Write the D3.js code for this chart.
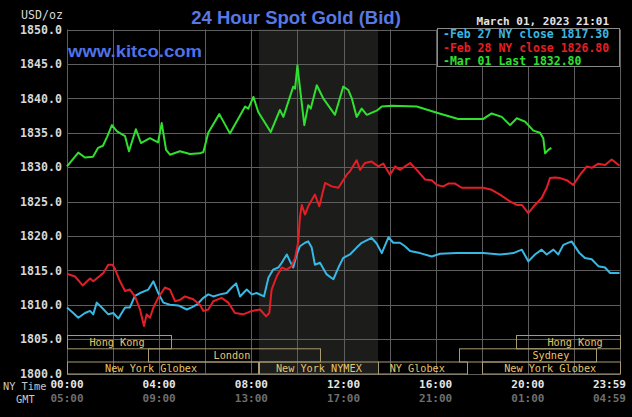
<!DOCTYPE html>
<html><head><meta charset="utf-8">
<script src="https://cdn.jsdelivr.net/npm/d3@7"></script>
<style>html,body{margin:0;padding:0;background:#000;overflow:hidden}</style>
</head><body><svg id="c" width="632" height="417"></svg>
<script>
// ---- data (hours NY time, price USD/oz) ----
const feb27Hours = [0.0,0.27,0.49,0.78,1.00,1.14,1.29,1.51,1.79,2.01,2.23,2.52,2.73,2.95,3.17,3.53,3.75,3.96,4.18,4.47,4.83,5.20,5.41,5.63,5.92,6.13,6.35,6.64,6.93,7.15,7.34,7.51,7.80,8.02,8.23,8.55,8.74,8.95,9.17,9.32,9.54,9.68,9.82,9.97,10.11,10.33,10.47,10.62,10.76,10.98,11.27,11.56,11.78,11.99,12.28,12.57,12.79,13.22,13.44,13.66,13.95,14.16,14.45,14.67,14.89,15.32,15.83,16.19,16.91,18.07,18.79,19.37,19.74,20.02,20.31,20.60,20.82,21.11,21.32,21.54,21.90,22.24,22.48,22.77,23.06,23.35,23.57,23.98];
const feb27Values = [1809.6,1808.8,1808.1,1808.8,1809.1,1808.6,1810.3,1809.6,1808.6,1808.8,1808.0,1809.6,1809.6,1811.3,1811.7,1812.2,1813.4,1811.7,1810.3,1810.0,1809.9,1809.3,1809.6,1810.0,1811.0,1811.5,1811.2,1811.5,1811.7,1812.5,1813.1,1811.2,1812.2,1811.5,1811.7,1811.2,1813.9,1815.1,1815.4,1816.1,1817.3,1816.3,1815.4,1817.3,1818.5,1819.0,1819.2,1818.3,1815.8,1816.1,1814.4,1813.7,1815.4,1816.8,1817.3,1818.3,1819.0,1819.7,1818.9,1817.5,1819.8,1819.0,1819.0,1818.5,1817.8,1817.5,1817.0,1817.4,1817.5,1817.5,1817.3,1817.5,1818.0,1816.3,1817.3,1818.0,1817.3,1818.0,1817.3,1818.7,1819.2,1817.5,1816.8,1816.6,1815.6,1815.4,1814.6,1814.6];

const feb28Hours = [0.0,0.35,0.68,1.00,1.14,1.58,1.79,1.98,2.08,2.30,2.52,2.73,2.95,3.17,3.34,3.46,3.60,3.75,3.96,4.25,4.47,4.69,4.90,5.12,5.48,5.77,5.92,6.13,6.35,6.71,7.00,7.29,7.65,8.02,8.38,8.64,8.78,8.88,9.10,9.32,9.54,9.75,9.90,10.04,10.11,10.19,10.33,10.47,10.76,10.95,11.20,11.49,11.78,12.14,12.28,12.57,12.72,12.93,13.22,13.51,13.73,14.02,14.24,14.45,14.89,15.18,15.54,15.83,16.05,16.33,16.55,16.84,17.13,18.07,18.43,18.79,19.23,19.52,19.74,20.02,20.31,20.60,20.82,20.96,21.18,21.40,21.69,21.97,22.27,22.56,22.77,23.06,23.35,23.64,23.98];
const feb28Values = [1814.5,1814.1,1812.8,1813.8,1813.4,1814.6,1815.8,1815.8,1815.2,1813.4,1812.0,1812.2,1811.2,1809.3,1806.9,1808.6,1808.1,1809.6,1811.0,1812.5,1812.2,1810.5,1810.7,1811.2,1810.8,1810.0,1809.1,1809.3,1810.5,1811.0,1810.3,1808.8,1808.6,1809.1,1809.3,1808.3,1808.8,1812.2,1814.1,1815.4,1815.1,1815.6,1816.8,1819.2,1822.8,1824.5,1823.1,1824.3,1826.0,1824.3,1827.7,1827.2,1827.0,1828.9,1829.4,1831.0,1829.6,1830.6,1830.8,1830.1,1830.5,1828.9,1830.1,1829.6,1830.6,1829.6,1828.2,1828.1,1827.4,1827.2,1827.6,1827.6,1827.0,1827.0,1826.7,1826.0,1825.0,1824.5,1824.5,1823.3,1824.5,1825.5,1827.0,1828.4,1828.5,1828.4,1828.1,1827.4,1828.9,1830.1,1829.9,1830.5,1830.3,1831.1,1830.2];

const mar01Hours = [0.0,0.49,0.78,1.13,1.35,1.56,1.74,1.95,2.17,2.52,2.69,2.99,3.21,3.60,3.95,4.11,4.30,4.47,4.90,5.34,5.77,5.92,6.13,6.61,7.07,7.73,7.87,8.09,8.30,8.84,9.24,9.39,9.82,9.90,10.00,10.08,10.30,10.47,10.58,10.84,11.12,11.63,11.99,12.21,12.36,12.57,12.79,13.01,13.44,13.66,14.09,15.18,16.05,16.98,18.07,18.43,18.87,19.23,19.52,19.88,20.24,20.53,20.67,20.75,20.89,21.02];
const mar01Values = [1830.1,1832.1,1831.4,1831.5,1832.8,1833.1,1834.4,1836.1,1835.2,1834.5,1832.3,1835.5,1833.5,1834.2,1833.6,1836.4,1832.5,1831.8,1832.3,1831.9,1832.0,1832.2,1835.0,1837.7,1834.9,1838.8,1838.5,1840.2,1838.0,1835.1,1838.3,1837.3,1841.7,1841.4,1844.8,1842.4,1836.1,1839.0,1838.5,1841.9,1840.0,1837.6,1841.7,1841.2,1840.0,1837.3,1838.5,1837.6,1838.2,1838.8,1838.9,1838.8,1837.9,1837.0,1837.0,1837.8,1837.3,1836.1,1837.1,1836.6,1835.3,1835.0,1834.2,1832.0,1832.5,1832.8];

const seriesNames = ["Feb 27 NY close 1817.30","Feb 28 NY close 1826.80","Mar 01 Last 1832.80"];
const seriesColors = ["#38b8e4","#e41e26","#2fe02f"];

const yTicks = [1800,1805,1810,1815,1820,1825,1830,1835,1840,1845,1850];
const xGridHours = [0,2,4,6,8,10,12,14,16,18,20,22,24];
const xLabelHours = [0,4,8,12,16,20,24];
const nyTimeLabels = ["00:00","04:00","08:00","12:00","16:00","20:00","23:59"];
const gmtLabels = ["05:00","09:00","13:00","17:00","21:00","01:00","04:59"];

const nymexStart = 8.33, nymexEnd = 13.5;

const sessionNames = ["Hong Kong","Hong Kong","London","Sydney","New York Globex","New York NYMEX","NY Globex","New York Globex"];
const sessionStart = [0,19.5,3.53,17.0,0,8.33,13.5,18.0];
const sessionEnd   = [4.5,24,11.0,22.97,8.29,13.5,17.35,24];
const sessionRow   = [0,0,1,1,2,2,2,2];
const sessionLabelAt = [2.17,22.05,7.16,21.0,3.65,10.93,15.2,20.97];

const titleText = "24 Hour Spot Gold (Bid)";
const siteText = "www.kitco.com";
const stampText = "March 01, 2023 21:01";

// ---- drawing ----
const svg = d3.select("#c");
const W = 632, H = 417;
svg.append("rect").attr("width",W).attr("height",H).attr("fill","#000");

const x = d3.scaleLinear().domain([0,24]).range([67,620]);
const y = d3.scaleLinear().domain([1800,1850]).range([373.5,29.5]);
const mono = "'DejaVu Sans Mono', 'Liberation Mono', monospace";

// NYMEX shaded region
svg.append("rect").attr("x",x(nymexStart)).attr("y",y(1850))
  .attr("width",x(nymexEnd)-x(nymexStart)).attr("height",y(1800)-y(1850))
  .attr("fill","#1c1c1a");

// grid
const grid = svg.append("g").attr("stroke","#5e5e5e").attr("stroke-width",1);
grid.selectAll("line.h").data(yTicks).join("line")
  .attr("x1",x(0)).attr("x2",x(24))
  .attr("y1",d=>Math.round(y(d))+0.5).attr("y2",d=>Math.round(y(d))+0.5);
grid.selectAll("line.v").data(xGridHours).join("line")
  .attr("y1",y(1850)).attr("y2",y(1800))
  .attr("x1",d=>Math.round(x(d))+0.5).attr("x2",d=>Math.round(x(d))+0.5);

// y axis labels
const yAxis = d3.axisLeft(y).tickValues(yTicks).tickFormat(d3.format(".1f")).tickSize(0).tickPadding(5);
const yg = svg.append("g").attr("transform",`translate(${x(0)},0)`).call(yAxis);
yg.select(".domain").remove();
yg.selectAll("text").attr("fill","#d8d8d8").style("font-family",mono).style("font-size","11.6px").style("font-weight","bold");

svg.append("text").attr("x",63).attr("y",18.5).attr("text-anchor","end")
  .attr("fill","#d8d8d8").style("font-family",mono).style("font-size","11.6px").text("USD/oz");

// sessions
const rowTop = [335,348.3,361.5], rowH = [13.3,13.2,12];
const sess = sessionNames.map((n,i)=>({name:n,s:sessionStart[i],e:sessionEnd[i],row:sessionRow[i],at:sessionLabelAt[i]}));
const sg = svg.append("g");
sg.selectAll("rect").data(sess).join("rect")
  .attr("x",d=>Math.round(x(d.s))+0.5).attr("y",d=>rowTop[d.row]+0.5)
  .attr("width",d=>Math.round(x(d.e))-Math.round(x(d.s))).attr("height",d=>rowH[d.row])
  .attr("fill","none").attr("stroke","#a89a72").attr("stroke-width",1);
sg.selectAll("text").data(sess).join("text")
  .attr("x",d=>x(d.at)).attr("y",d=>rowTop[d.row]+10.5)
  .attr("text-anchor","middle").attr("fill","#e8c46a")
  .style("font-family",mono).style("font-size","10.2px").text(d=>d.name);

// lines
const hours = [feb27Hours,feb28Hours,mar01Hours];
const vals = [feb27Values,feb28Values,mar01Values];
const line = d3.line().x(d=>x(d[0])).y(d=>y(d[1]));
hours.forEach((hs,i)=>{
  const pts = hs.map((h,j)=>[h,vals[i][j]]);
  svg.append("path").datum(pts).attr("d",line).attr("fill","none")
    .attr("stroke",seriesColors[i]).attr("stroke-width",2).attr("stroke-linejoin","round");
});

// x labels
const xl = svg.append("g").style("font-family",mono).style("font-size","11px").style("font-weight","bold");
xl.selectAll("text.ny").data(xLabelHours).join("text").attr("class","ny")
  .attr("x",(d,i)=> i===xLabelHours.length-1 ? 626 : x(d))
  .attr("y",387.5).attr("text-anchor",(d,i)=> i===xLabelHours.length-1 ? "end":"middle")
  .attr("fill","#e6e6e6").text((d,i)=>nyTimeLabels[i]);
xl.selectAll("text.gmt").data(xLabelHours).join("text").attr("class","gmt")
  .attr("x",(d,i)=> i===xLabelHours.length-1 ? 626 : x(d))
  .attr("y",402).attr("text-anchor",(d,i)=> i===xLabelHours.length-1 ? "end":"middle")
  .attr("fill","#6e6e6e").text((d,i)=>gmtLabels[i]);
svg.append("text").attr("x",3).attr("y",390).attr("fill","#c8c8c8")
  .style("font-family",mono).style("font-size","10.3px").text("NY Time");
svg.append("text").attr("x",16).attr("y",403).attr("fill","#c8c8c8")
  .style("font-family",mono).style("font-size","10.3px").text("GMT");

// title and site
svg.append("text").attr("x",296).attr("y",24).attr("text-anchor","middle")
  .attr("fill","#5878e4").style("font-family","'Liberation Sans', Arial, sans-serif")
  .style("font-size","18.5px").style("font-weight","bold").text(titleText);
svg.append("text").attr("x",68).attr("y",57).attr("fill","#4f72e8")
  .style("font-family","'Liberation Sans', Arial, sans-serif")
  .style("font-size","17px").style("font-weight","bold")
  .attr("textLength",134).attr("lengthAdjust","spacingAndGlyphs").text(siteText);

// timestamp + legend
svg.append("text").attr("x",609).attr("y",24.5).attr("text-anchor","end")
  .attr("fill","#e4e4e4").style("font-family",mono).style("font-size","11px").style("font-weight","bold").text(stampText);
svg.append("rect").attr("x",437.5).attr("y",28.5).attr("width",182).attr("height",38)
  .attr("fill","#000").attr("stroke","#8a8a8a");
const lg = svg.append("g").style("font-family",mono).style("font-size","11.5px").style("font-weight","bold");
lg.selectAll("text").data(seriesNames).join("text")
  .attr("x",443).attr("y",(d,i)=>38+i*13.6).attr("fill",(d,i)=>seriesColors[i])
  .text(d=>"-"+d);
</script></body></html>
